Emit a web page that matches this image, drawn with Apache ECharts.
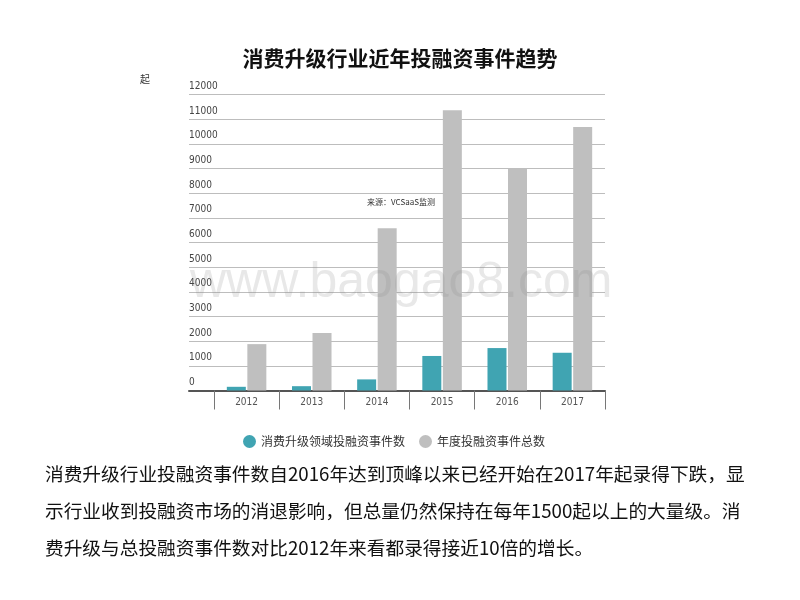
<!DOCTYPE html>
<html>
<head>
<meta charset="utf-8">
<script src="https://cdn.jsdelivr.net/npm/echarts@6/dist/echarts.min.js"></script>
<style>html,body{margin:0;padding:0;background:#fff;}#main{width:800px;height:600px;}</style>
</head>
<body>
<div id="main"></div>
<script>
var years = ['2012', '2013', '2014', '2015', '2016', '2017'];
var consumerEvents = [150, 175, 450, 1400, 1720, 1530];
var totalEvents = [1880, 2330, 6580, 11360, 9000, 10680];
var seriesNames = ['消费升级领域投融资事件数', '年度投融资事件总数'];
var titleText = '消费升级行业近年投融资事件趋势';
var unitText = '起';
var sourceText = '来源：VCSaaS监测';
var watermarkText = 'www.baogao8.com';
var paragraphLines = [
  '消费升级行业投融资事件数自2016年达到顶峰以来已经开始在2017年起录得下跌，显',
  '示行业收到投融资市场的消退影响，但总量仍然保持在每年1500起以上的大量级。消',
  '费升级与总投融资事件数对比2012年来看都录得接近10倍的增长。'
];

var cjk = '"Noto Sans CJK SC", "Noto Sans", sans-serif';
var narrow = '"Liberation Sans Narrow", "DejaVu Sans Condensed", "Liberation Sans", sans-serif';

var chart = echarts.init(document.getElementById('main'), null, {renderer: 'canvas'});

var graphics = [
  {type: 'text', left: 140, top: 74, style: {text: unitText, font: '10px ' + cjk, fill: '#333'}},
  {type: 'text', left: 367, top: 198, style: {text: sourceText, font: '8px ' + cjk, fill: '#333'}}
];
paragraphLines.forEach(function (line, i) {
  graphics.push({type: 'text', left: 45, top: 465 + i * 37, style: {text: line, font: '18.7px ' + cjk, fill: '#111'}});
});
graphics.push({type: 'text', z: 100, left: 190, top: 258, silent: true,
  style: {text: watermarkText, font: '300 50px "Liberation Sans", sans-serif', fill: 'rgba(140,140,140,0.2)'}});

var option = {
  backgroundColor: '#fff',
  animation: false,
  title: {
    text: titleText, left: 'center', top: 43,
    textStyle: {fontFamily: cjk, fontSize: 21, fontWeight: 'bold', color: '#111'}
  },
  legend: {
    data: seriesNames, left: 238, top: 430, icon: 'circle', itemWidth: 13, itemHeight: 13, itemGap: 14,
    textStyle: {fontFamily: cjk, fontSize: 12, color: '#333'}
  },
  grid: [
    {left: 189, right: 195, top: 94.5, bottom: 209.5},
    {left: 214, right: 195, top: 94.5, bottom: 209.5}
  ],
  xAxis: [
    {gridIndex: 0, type: 'value', min: 0, max: 1, axisLine: {show: true, lineStyle: {color: '#555', width: 2}},
      axisTick: {show: false}, axisLabel: {show: false}, splitLine: {show: false}},
    {gridIndex: 1, type: 'category', data: years, axisLine: {show: false},
      axisTick: {show: true, length: 19, interval: 0, lineStyle: {color: '#777', width: 1}},
      axisLabel: {margin: 7, fontFamily: narrow, fontSize: 10, color: '#555'}}
  ],
  yAxis: [
    {gridIndex: 0, type: 'value', min: 0, max: 12000, interval: 1000, axisLine: {show: false}, axisTick: {show: false},
      splitLine: {show: true, lineStyle: {color: '#bdbdbd', width: 1}},
      axisLabel: {inside: true, align: 'left', verticalAlign: 'bottom', margin: 0, padding: [0, 0, 3, 0],
        fontFamily: narrow, fontSize: 10, color: '#444', formatter: function (v) { return String(v); }}},
    {gridIndex: 1, type: 'value', min: 0, max: 12000, show: false}
  ],
  series: [
    {name: seriesNames[0], type: 'bar', xAxisIndex: 1, yAxisIndex: 1, data: consumerEvents,
      barWidth: 19, barGap: '8%', itemStyle: {color: '#40a4b2'}},
    {name: seriesNames[1], type: 'bar', xAxisIndex: 1, yAxisIndex: 1, data: totalEvents,
      barWidth: 19, barGap: '8%', itemStyle: {color: '#bfbfbf'}}
  ],
  graphic: graphics
};
chart.setOption(option);
</script>
</body>
</html>
